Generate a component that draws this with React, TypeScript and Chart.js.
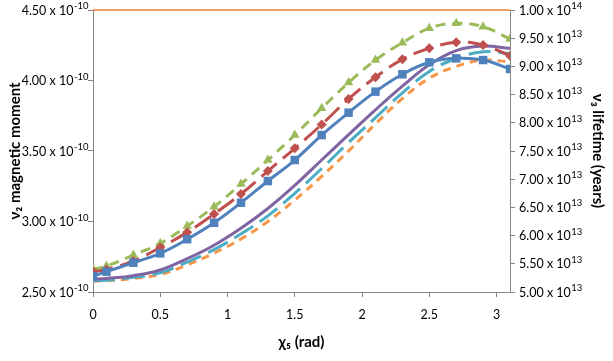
import React, { useEffect, useRef } from "react";
import { Chart, registerables } from "chart.js";
Chart.register(...registerables);

// x values (rad)
const chi5 = [0, 0.1, 0.3, 0.5, 0.7, 0.9, 1.1, 1.3, 1.5, 1.7, 1.9, 2.1, 2.3, 2.5, 2.7, 2.9, 3.1];

// ν2 magnetic moment series (left axis)
const momentBlue = [2.613e-10, 2.644e-10, 2.708e-10, 2.774e-10, 2.874e-10, 2.991e-10, 3.133e-10, 3.287e-10, 3.436e-10, 3.613e-10, 3.772e-10, 3.921e-10, 4.044e-10, 4.129e-10, 4.157e-10, 4.145e-10, 4.082e-10];
const momentRed = [2.645e-10, 2.66e-10, 2.72e-10, 2.816e-10, 2.923e-10, 3.053e-10, 3.195e-10, 3.358e-10, 3.519e-10, 3.688e-10, 3.869e-10, 4.023e-10, 4.15e-10, 4.228e-10, 4.271e-10, 4.252e-10, 4.176e-10];
const momentGreen = [2.661e-10, 2.684e-10, 2.762e-10, 2.845e-10, 2.968e-10, 3.105e-10, 3.266e-10, 3.436e-10, 3.613e-10, 3.803e-10, 3.985e-10, 4.145e-10, 4.268e-10, 4.37e-10, 4.406e-10, 4.382e-10, 4.294e-10];

// ν3 lifetime series (right axis, years)
const lifePurple = [5.225e13, 5.24e13, 5.29e13, 5.39e13, 5.59e13, 5.83e13, 6.13e13, 6.48e13, 6.89e13, 7.34e13, 7.79e13, 8.23e13, 8.65e13, 9.03e13, 9.28e13, 9.36e13, 9.32e13];
const lifeCyan = [5.2e13, 5.21e13, 5.26e13, 5.34e13, 5.53e13, 5.75e13, 6.03e13, 6.35e13, 6.75e13, 7.19e13, 7.65e13, 8.09e13, 8.53e13, 8.91e13, 9.14e13, 9.26e13, 9.23e13];
const lifeOrange = [5.19e13, 5.2e13, 5.24e13, 5.31e13, 5.48e13, 5.69e13, 5.94e13, 6.25e13, 6.63e13, 7.05e13, 7.5e13, 7.98e13, 8.43e13, 8.79e13, 9.0e13, 9.11e13, 9.08e13];

// axis ranges
const momentMin = 2.5e-10;
const momentMax = 4.5e-10;
const momentStep = 0.5e-10;
const lifeMin = 5e13;
const lifeMax = 1e14;
const lifeStep = 0.5e13;
const xMin = 0;
const xMax = 3.1;
const xStep = 0.5;

const sciParts = (v: number): [string, string] => {
  const e = Math.floor(Math.log10(Math.abs(v)) + 1e-9);
  const m = v / Math.pow(10, e);
  return [m.toFixed(2) + " x 10", String(e)];
};

const pts = (ys: number[]) => chi5.map((x, i) => ({ x, y: ys[i] }));

const FONT = "Lato";

const decorPlugin = {
  id: "decor",
  afterDatasetsDraw(chart: any) {
    const { ctx, chartArea } = chart;
    ctx.save();
    ctx.strokeStyle = "#ED7D31";
    ctx.lineWidth = 1.5;
    ctx.beginPath();
    ctx.moveTo(chartArea.left, chartArea.top);
    ctx.lineTo(chartArea.right, chartArea.top);
    ctx.stroke();
    ctx.restore();
  },
  afterDraw(chart: any) {
    const ctx = chart.ctx;
    ctx.save();
    ctx.fillStyle = "#000";
    ctx.textBaseline = "middle";
    ctx.textAlign = "left";
    for (const id of ["y", "y1"]) {
      const sc = chart.scales[id];
      sc.ticks.forEach((t: any) => {
        const py = sc.getPixelForValue(t.value);
        const [mant, exp] = sciParts(t.value);
        ctx.font = `12.5px ${FONT}`;
        const wm = ctx.measureText(mant).width;
        ctx.font = `9.5px ${FONT}`;
        const we = ctx.measureText(exp).width;
        const x0 = id === "y" ? sc.right - 5 - wm - we : sc.left + 9;
        ctx.font = `12.5px ${FONT}`;
        ctx.fillText(mant, x0, py + 0.5);
        ctx.font = `9.5px ${FONT}`;
        ctx.fillText(exp, x0 + wm + 0.5, py - 4);
      });
    }
    ctx.restore();
  },
};

export default function App() {
  const ref = useRef<HTMLCanvasElement | null>(null);
  useEffect(() => {
    if (!ref.current) return;
    const tickFont = { family: FONT, size: 12.5 };
    const titleFont = { family: FONT, size: 15, weight: "bold" as const };
    const chart = new Chart(ref.current, {
      type: "line",
      data: {
        datasets: [
          {
            label: "blue",
            data: pts(momentBlue),
            yAxisID: "y",
            borderColor: "#4F81BD",
            backgroundColor: "#4F81BD",
            borderWidth: 3,
            pointStyle: "rect",
            pointRadius: 6,
            pointBorderWidth: 0,
            tension: 0.4,
          },
          {
            label: "red",
            data: pts(momentRed),
            yAxisID: "y",
            borderColor: "#C0504D",
            backgroundColor: "#C0504D",
            borderWidth: 3,
            borderDash: [20, 8],
            pointStyle: "rectRot",
            pointRadius: 5,
            pointBorderWidth: 0,
            tension: 0.4,
          },
          {
            label: "green",
            data: pts(momentGreen),
            yAxisID: "y",
            borderColor: "#9BBB59",
            backgroundColor: "#9BBB59",
            borderWidth: 3,
            borderDash: [10, 7],
            pointStyle: "triangle",
            pointRadius: 5.5,
            pointBorderWidth: 0,
            tension: 0.4,
          },
          {
            label: "purple",
            data: pts(lifePurple),
            yAxisID: "y1",
            borderColor: "#8064A2",
            borderWidth: 3,
            pointRadius: 0,
            tension: 0.4,
          },
          {
            label: "cyan",
            data: pts(lifeCyan),
            yAxisID: "y1",
            borderColor: "#4BACC6",
            borderWidth: 3,
            borderDash: [22, 8],
            pointRadius: 0,
            tension: 0.4,
          },
          {
            label: "orange",
            data: pts(lifeOrange),
            yAxisID: "y1",
            borderColor: "#F79646",
            borderWidth: 3,
            borderDash: [8, 6],
            pointRadius: 0,
            tension: 0.4,
          },
        ],
      },
      options: {
        responsive: false,
        animation: false,
        layout: { padding: { top: 10, left: 0, right: 0, bottom: 0 } },
        plugins: { legend: { display: false }, tooltip: { enabled: false } },
        scales: {
          x: {
            type: "linear",
            min: xMin,
            max: xMax,
            grid: { drawOnChartArea: false, tickLength: 5, color: "#868686" },
            border: { color: "#868686", width: 1 },
            ticks: { stepSize: xStep, includeBounds: false, font: tickFont, color: "#000", padding: 10, maxRotation: 0, callback: (v: any) => String(Number(v)) },
            title: { display: true, text: "χ₅ (rad)", font: titleFont, color: "#000", padding: { top: 0, bottom: 10 } },
            afterFit: (s: any) => { s.height = 69; },
          },
          y: {
            type: "linear",
            position: "left",
            min: momentMin,
            max: momentMax,
            grid: { drawOnChartArea: false, tickLength: 5, color: "#868686" },
            border: { color: "#868686", width: 1 },
            ticks: { stepSize: momentStep, display: false },
            title: { display: true, text: "ν₂ magnetic moment", font: titleFont, color: "#000", padding: { top: 6, bottom: 0 } },
            afterFit: (s: any) => { s.width = 93; },
          },
          y1: {
            type: "linear",
            position: "right",
            min: lifeMin,
            max: lifeMax,
            grid: { drawOnChartArea: false, tickLength: 5, color: "#868686" },
            border: { color: "#868686", width: 1 },
            ticks: { stepSize: lifeStep, display: false },
            title: { display: true, text: "ν₃ lifetime (years)", font: titleFont, color: "#000", padding: { top: 6, bottom: 0 } },
            afterFit: (s: any) => { s.width = 103; },
          },
        },
      },
      plugins: [decorPlugin],
    });
    return () => chart.destroy();
  }, []);
  return (
    <div style={{ position: "fixed", left: 0, top: 0, width: 613, height: 361, background: "#fff" }}>
      <canvas ref={ref} width={613} height={361} />
    </div>
  );
}
